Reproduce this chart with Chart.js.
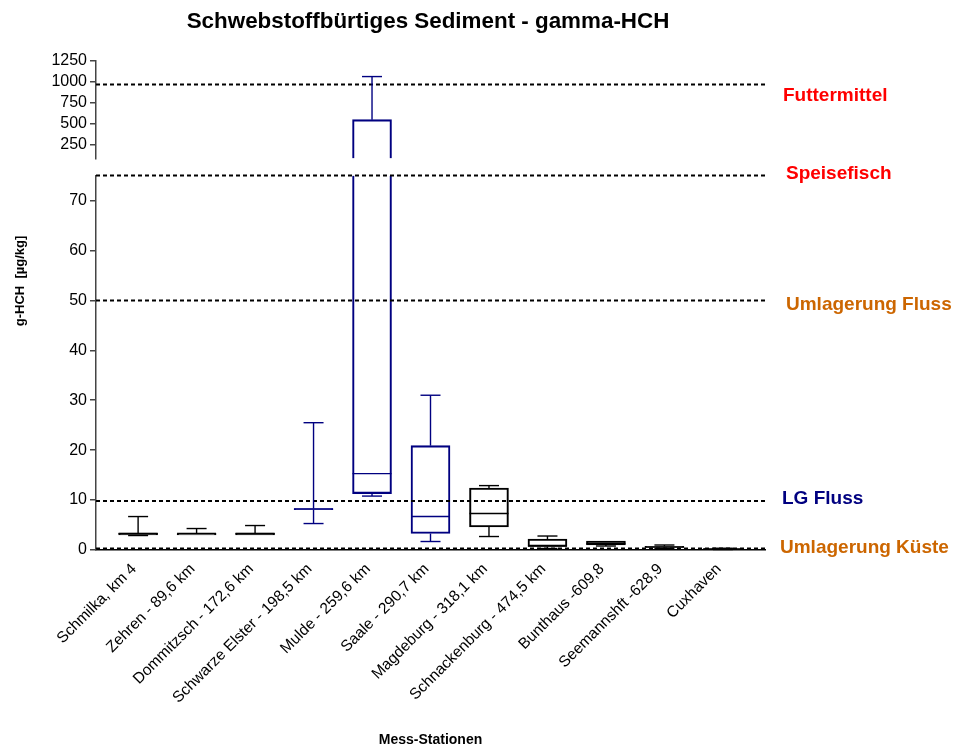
<!DOCTYPE html>
<html>
<head>
<meta charset="utf-8">
<script src="https://cdn.jsdelivr.net/npm/chart.js@4.4.1/dist/chart.umd.min.js"></script>
<style>
  html, body { margin: 0; padding: 0; background: #fff; }
  #wrap { width: 953px; height: 749px; }
</style>
</head>
<body>
<div id="wrap"><canvas id="c" width="953" height="749"></canvas></div>
<script>
// ---------------- DATA ----------------
const stations = ['Schmilka, km 4', 'Zehren - 89,6 km', 'Dommitzsch - 172,6 km', 'Schwarze Elster - 198,5 km',
  'Mulde - 259,6 km', 'Saale - 290,7 km', 'Magdeburg - 318,1 km', 'Schnackenburg - 474,5 km',
  'Bunthaus -609,8', 'Seemannshft -628,9', 'Cuxhaven'];
const minValues    = [2.9, 3.0, 3.0, 5.3, 10.8, 1.7, 2.7, 0.3, 0.8, 0.3, 0.1];
const q1Values     = [3.0, 3.0, 3.0, 8.1, 11.3, 3.3, 4.6, 0.7, 1.0, 0.5, 0.15];
const medianValues = [3.3, 3.3, 3.3, 8.2, 15.3, 6.7, 7.3, 0.8, 1.3, 0.6, 0.2];
const q3Values     = [3.4, 3.3, 3.4, 8.3, 545, 20.9, 12.4, 2.2, 1.8, 0.75, 0.3];
const maxValues    = [6.7, 4.3, 4.9, 25.5, 1063, 31.0, 12.9, 2.8, 1.8, 1.0, 0.35];

const thresholdNames  = ['Futtermittel', 'Speisefisch', 'Umlagerung Fluss', 'LG Fluss', 'Umlagerung Küste'];
const thresholdValues = [967, 75, 50, 9.8, 0.3];

const yTicksLower = [0, 10, 20, 30, 40, 50, 60, 70];
const yTicksUpper = [250, 500, 750, 1000, 1250];

// axis segment limits (broken axis)
const lowerMin = 0, lowerMax = 75;
const upperMin = 78, upperMax = 1250;

// ---------------- STYLE ----------------
const FONT = "'Liberation Sans', Arial, Helvetica, sans-serif";
const NAVY = '#000080';
const boxColors = ['#000', '#000', '#000', NAVY, NAVY, NAVY, '#000', '#000', '#000', '#000', '#000'];
const thresholdColors = ['#ff0000', '#ff0000', '#cc6600', '#000080', '#cc6600'];
const labelDx = [18, 21, 21, 17, 15];
const labelDy = [11, -2, 4, -2, -1];
const xMin = -0.72, xMax = 10.72;

// ---------------- DATASETS ----------------
const lowerBoxes = stations.map((s, i) => ({ x: i, y: [q1Values[i], Math.min(q3Values[i], lowerMax)] }));
const upperBoxes = stations.map((s, i) => q3Values[i] > lowerMax ? { x: i, y: [upperMin, q3Values[i]] } : null)
  .filter(d => d);

const thresholdSets = thresholdValues.map((v, k) => ({
  type: 'line',
  label: thresholdNames[k],
  data: [{ x: xMin, y: v }, { x: xMax, y: v }],
  yAxisID: v > lowerMax ? 'yTop' : 'y',
  borderColor: '#000',
  borderWidth: 2,
  borderDash: [4, 3],
  pointRadius: 0,
  fill: false,
  clip: false,
  order: 0
}));

const datasets = [
  {
    type: 'bar',
    label: 'box-lower',
    data: lowerBoxes,
    yAxisID: 'y',
    grouped: false,
    barThickness: 39,
    backgroundColor: 'rgba(255,255,255,0)',
    borderColor: ctx => boxColors[ctx.raw ? ctx.raw.x : 0],
    borderWidth: 1.4,
    borderSkipped: ctx => (ctx.raw && q3Values[ctx.raw.x] > lowerMax) ? 'top' : false,
    order: 1
  },
  {
    type: 'bar',
    label: 'box-upper',
    data: upperBoxes,
    yAxisID: 'yTop',
    grouped: false,
    barThickness: 39,
    backgroundColor: 'rgba(255,255,255,0)',
    borderColor: ctx => boxColors[ctx.raw ? ctx.raw.x : 0],
    borderWidth: 1.4,
    borderSkipped: 'bottom',
    order: 1
  },
  ...thresholdSets
];

// ---------------- PLUGINS ----------------
function yPix(chart, v) {
  return v <= lowerMax ? chart.scales.y.getPixelForValue(v) : chart.scales.yTop.getPixelForValue(v);
}

const whiskerPlugin = {
  id: 'whiskers',
  afterDatasetsDraw(chart) {
    const ctx = chart.ctx;
    const xs = chart.scales.x;
    const boxW = 39, capW = 20;
    ctx.save();
    ctx.lineWidth = 1.4;
    stations.forEach((s, i) => {
      const px = xs.getPixelForValue(i);
      ctx.strokeStyle = boxColors[i];
      // median
      const ym = yPix(chart, medianValues[i]);
      ctx.beginPath(); ctx.moveTo(px - boxW / 2, ym); ctx.lineTo(px + boxW / 2, ym); ctx.stroke();
      // upper whisker
      const yq3 = yPix(chart, q3Values[i]), ymax = yPix(chart, maxValues[i]);
      if (maxValues[i] > q3Values[i]) {
        ctx.beginPath(); ctx.moveTo(px, yq3); ctx.lineTo(px, ymax); ctx.stroke();
        ctx.beginPath(); ctx.moveTo(px - capW / 2, ymax); ctx.lineTo(px + capW / 2, ymax); ctx.stroke();
      }
      // lower whisker
      const yq1 = yPix(chart, q1Values[i]), ymin = yPix(chart, minValues[i]);
      if (minValues[i] < q1Values[i]) {
        ctx.beginPath(); ctx.moveTo(px, yq1); ctx.lineTo(px, ymin); ctx.stroke();
        ctx.beginPath(); ctx.moveTo(px - capW / 2, ymin); ctx.lineTo(px + capW / 2, ymin); ctx.stroke();
      }
    });
    ctx.restore();
  },
  afterDraw(chart) {
    const ctx = chart.ctx;
    const area = chart.chartArea;
    ctx.save();
    // main title
    ctx.fillStyle = '#000';
    ctx.font = 'bold 22.4px ' + FONT;
    ctx.textAlign = 'center';
    ctx.textBaseline = 'middle';
    ctx.fillText('Schwebstoffbürtiges Sediment - gamma-HCH', 428, 22);
    // y title
    ctx.save();
    ctx.translate(20, 281);
    ctx.rotate(-Math.PI / 2);
    ctx.font = 'bold 13px ' + FONT;
    ctx.fillText('g-HCH  [µg/kg]', 0, 0);
    ctx.restore();
    // threshold labels
    ctx.textAlign = 'left';
    ctx.font = 'bold 19px ' + FONT;
    thresholdNames.forEach((name, k) => {
      ctx.fillStyle = thresholdColors[k];
      ctx.fillText(name, area.right + labelDx[k], yPix(chart, thresholdValues[k]) + labelDy[k]);
    });
    ctx.restore();
  }
};

// ---------------- CHART ----------------
const axisColor = '#444';
const yCommon = {
  type: 'linear',
  position: 'left',
  stack: 'v',
  ticks: { font: { family: FONT, size: 16 }, color: '#000', padding: 3, autoSkip: false, callback: v => String(v) },
  grid: { display: true, drawOnChartArea: false, drawTicks: true, tickLength: 6, color: axisColor, lineWidth: 1.5 },
  border: { display: true, color: axisColor, width: 1.5 },
  afterFit: s => { s.width = 96; }
};

new Chart(document.getElementById('c'), {
  data: { datasets },
  options: {
    responsive: false,
    animation: false,
    events: [],
    layout: { padding: { top: 61, right: 188, bottom: 0, left: 0 } },
    plugins: { legend: { display: false }, title: { display: false }, tooltip: { enabled: false } },
    scales: {
      x: {
        type: 'linear',
        position: 'bottom',
        offset: false,
        min: xMin,
        max: xMax,
        afterBuildTicks: s => { s.ticks = stations.map((_, i) => ({ value: i })); },
        ticks: {
          callback: v => (stations[v] !== undefined ? stations[v] : ''),
          autoSkip: false,
          minRotation: 45,
          maxRotation: 45,
          labelOffset: -4,
          font: { family: FONT, size: 15.5 },
          color: '#000',
          padding: 2
        },
        grid: { display: false, offset: false },
        border: { display: true, color: '#000', width: 1.5 },
        title: { display: true, text: 'Mess-Stationen', color: '#000', font: { family: FONT, size: 14, weight: 'bold' }, padding: { top: 0, bottom: 0 } },
        afterFit: s => { s.height = 199; }
      },
      y: Object.assign({}, yCommon, {
        min: lowerMin, max: lowerMax, stackWeight: 374.5, weight: 1,
        afterBuildTicks: s => { s.ticks = yTicksLower.map(v => ({ value: v })); }
      }),
      yGap: {
        type: 'linear', position: 'left', stack: 'v', stackWeight: 17, weight: 2,
        min: 0, max: 1,
        ticks: { display: false },
        grid: { display: false },
        border: { display: false },
        afterFit: s => { s.width = 96; }
      },
      yTop: Object.assign({}, yCommon, {
        min: upperMin, max: upperMax, stackWeight: 97.6, weight: 3,
        afterBuildTicks: s => { s.ticks = yTicksUpper.map(v => ({ value: v })); }
      })
    }
  },
  plugins: [whiskerPlugin]
});
</script>
</body>
</html>
